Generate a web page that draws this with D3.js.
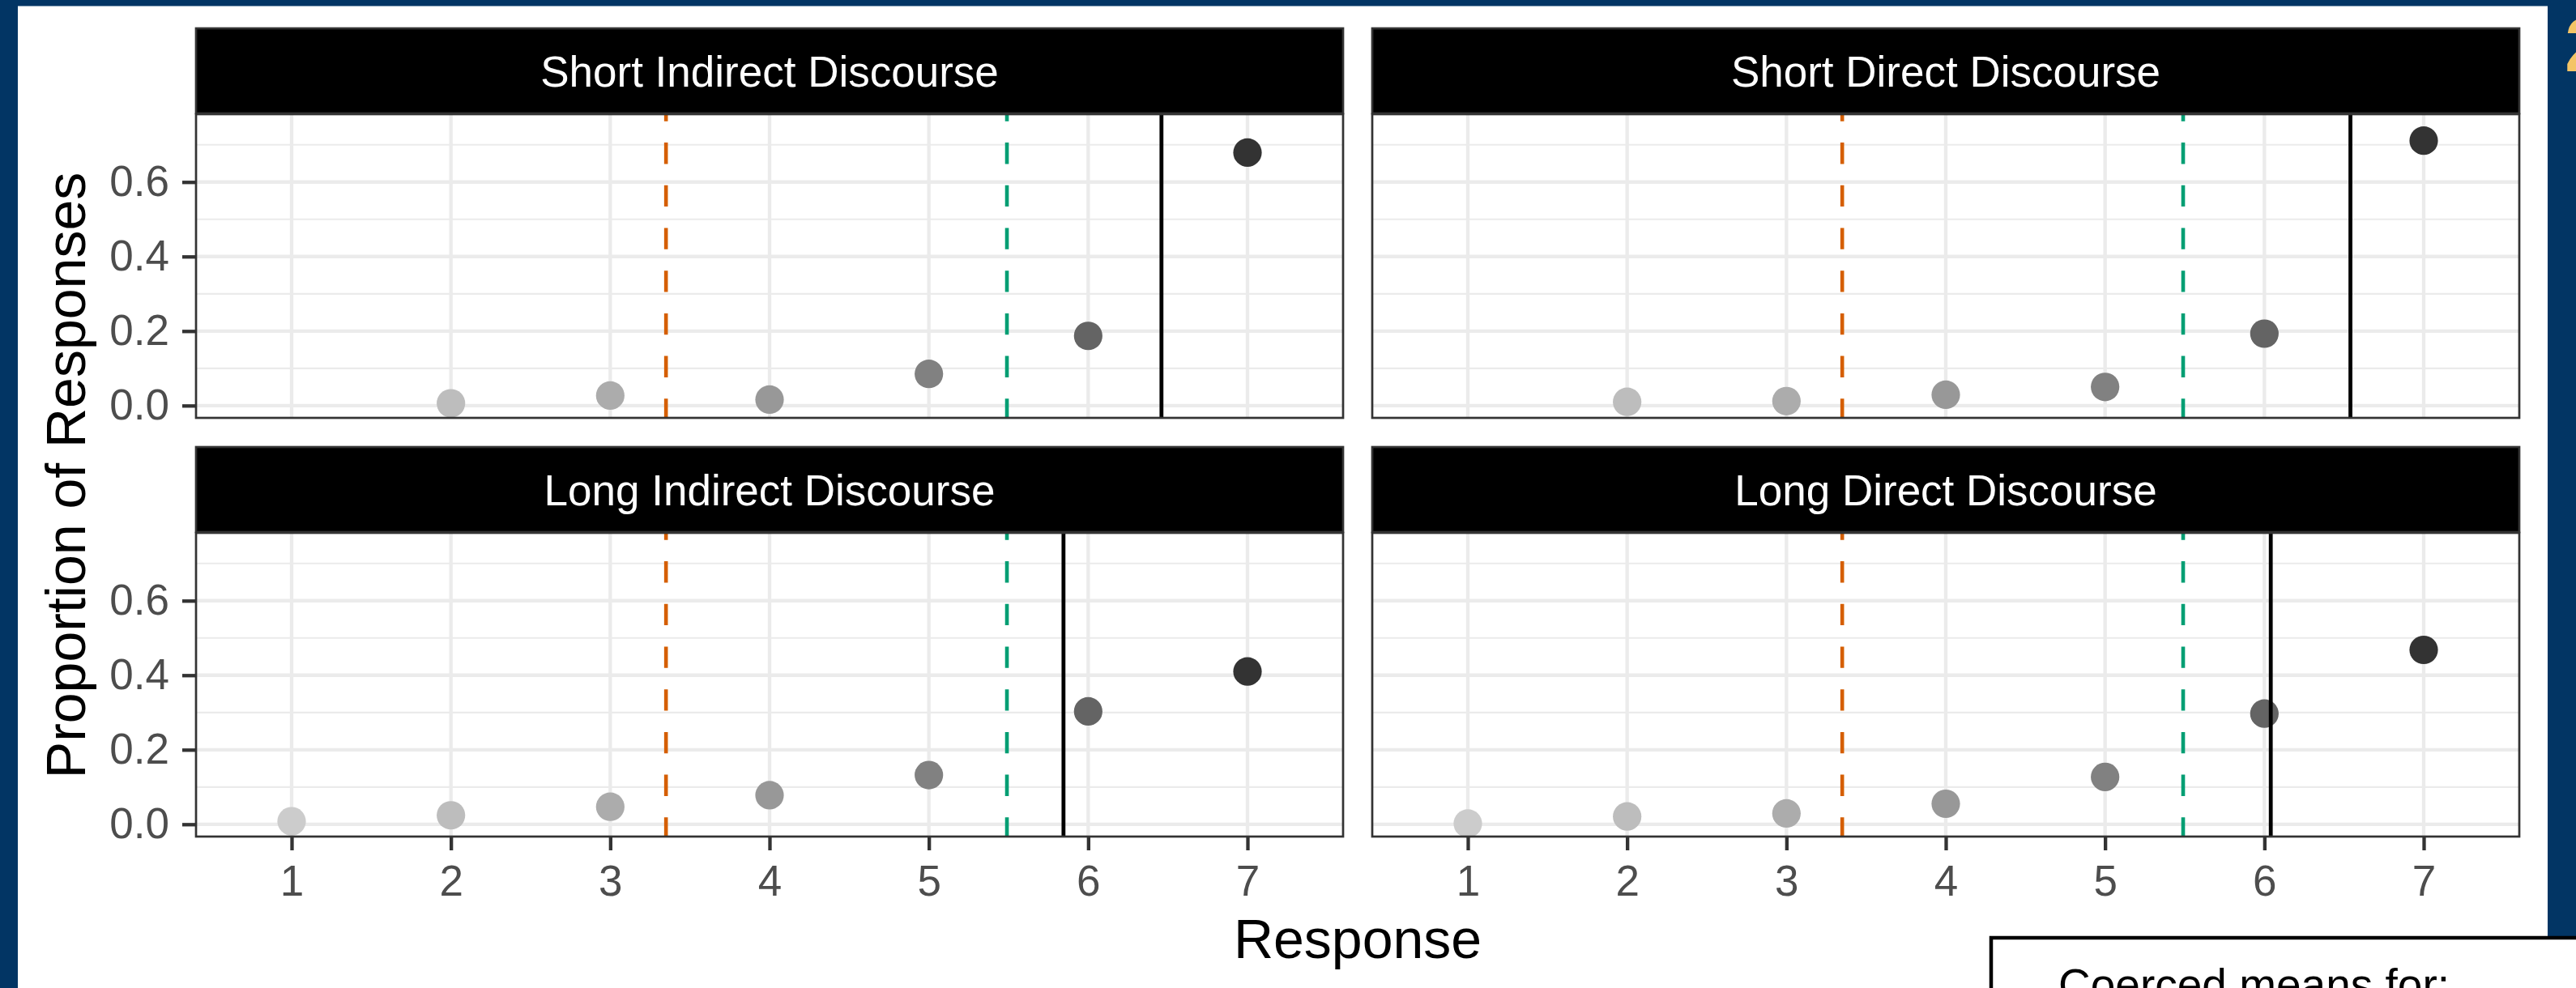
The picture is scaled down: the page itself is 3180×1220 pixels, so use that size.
<!DOCTYPE html>
<html>
<head>
<meta charset="utf-8">
<script src="https://cdn.jsdelivr.net/npm/d3@7"></script>
<style>
  body { margin: 0; background: #023564; overflow: hidden; }
  text { font-family: "Liberation Sans", Arial, Helvetica, sans-serif; }
</style>
</head>
<body>
<div id="my_dataviz"></div>
<script>
// data
const responses = [1, 2, 3, 4, 5, 6, 7];
const facetNames = ["Short Indirect Discourse", "Short Direct Discourse",
                    "Long Indirect Discourse", "Long Direct Discourse"];
const shortIndirect = [null, 0.006, 0.027, 0.016, 0.085, 0.187, 0.679];
const shortDirect   = [null, 0.010, 0.012, 0.029, 0.050, 0.193, 0.711];
const longIndirect  = [0.008, 0.024, 0.047, 0.078, 0.132, 0.303, 0.410];
const longDirect    = [0.002, 0.021, 0.029, 0.055, 0.127, 0.297, 0.468];
const facetMeans = [6.46, 6.54, 5.845, 6.04];   // solid black line
const coercedMeans = [3.35, 5.49];              // dashed lines
const coercedColors = ["#D55E00", "#009E73"];
const yTicks = [0, 0.2, 0.4, 0.6];
const yMinor = [0.1, 0.3, 0.5, 0.7];

const facetValues = [shortIndirect, shortDirect, longIndirect, longDirect];

// set the dimensions of the page
const W = 3180, H = 1220;
const panelLeft = [242, 1694], panelW = 1416;
const stripTop = [35, 552], stripH = 106, panelH = 375;

const svg = d3.select("#my_dataviz")
  .append("svg")
    .attr("width", W)
    .attr("height", H);

// white slide area
svg.append("rect")
  .attr("x", 22).attr("y", 7.5)
  .attr("width", 3145 - 22).attr("height", H)
  .attr("fill", "white");

// slide number peeking in at the right edge
svg.append("text")
  .attr("x", 3166).attr("y", 88)
  .attr("font-size", 95).attr("font-weight", "bold")
  .attr("fill", "#F4C466")
  .text("2");

// scales
const x = d3.scaleLinear().domain([0.4, 7.6]).range([0, panelW]);
const y = d3.scaleLinear().domain([-0.033, 0.782]).range([panelH, 0]);

// grey palette for the response levels (light to dark)
const color = d3.scaleOrdinal()
  .domain(responses)
  .range(["#CCCCCC", "#BDBDBD", "#ACACAC", "#989898", "#818181", "#646464", "#333333"]);

facetNames.forEach(function (name, i) {
  const col = i % 2, row = Math.floor(i / 2);
  const top = stripTop[row] + stripH;
  const g = svg.append("g")
    .attr("transform", `translate(${panelLeft[col]}, ${top})`);

  // panel background + grid
  g.append("rect").attr("width", panelW).attr("height", panelH).attr("fill", "white");
  g.selectAll(".minor").data(yMinor).enter().append("line")
    .attr("x1", 0).attr("x2", panelW)
    .attr("y1", d => y(d)).attr("y2", d => y(d))
    .attr("stroke", "#EBEBEB").attr("stroke-width", 2.2);
  g.selectAll(".major").data(yTicks).enter().append("line")
    .attr("x1", 0).attr("x2", panelW)
    .attr("y1", d => y(d)).attr("y2", d => y(d))
    .attr("stroke", "#EBEBEB").attr("stroke-width", 4.3);
  g.selectAll(".vgrid").data(responses).enter().append("line")
    .attr("x1", d => x(d)).attr("x2", d => x(d))
    .attr("y1", 0).attr("y2", panelH)
    .attr("stroke", "#EBEBEB").attr("stroke-width", 4.3);

  // Add dots
  const pts = responses.map((r, k) => ({ r: r, v: facetValues[i][k] }))
    .filter(d => d.v !== null);
  g.selectAll("dot").data(pts).enter().append("circle")
    .attr("cx", d => x(d.r))
    .attr("cy", d => y(d.v))
    .attr("r", 17.6)
    .style("fill", d => color(d.r));

  // coerced means (dashed) and facet mean (solid)
  g.selectAll(".coerced").data(coercedMeans).enter().append("line")
    .attr("x1", d => x(d)).attr("x2", d => x(d))
    .attr("y1", panelH).attr("y2", 0)
    .attr("stroke", (d, k) => coercedColors[k])
    .attr("stroke-width", 4.6)
    .attr("stroke-dasharray", "26.3,26.4")
    .attr("stroke-dashoffset", 2.6);
  g.append("line")
    .attr("x1", x(facetMeans[i])).attr("x2", x(facetMeans[i]))
    .attr("y1", panelH).attr("y2", 0)
    .attr("stroke", "black").attr("stroke-width", 4.8);

  // panel border
  g.append("rect").attr("width", panelW).attr("height", panelH)
    .attr("fill", "none").attr("stroke", "#333333").attr("stroke-width", 2.7);

  // strip
  g.append("rect")
    .attr("y", -stripH).attr("width", panelW).attr("height", stripH - 1)
    .attr("fill", "black").attr("stroke", "#333333").attr("stroke-width", 2.7);
  g.append("text")
    .attr("x", panelW / 2).attr("y", -stripH / 2 + 18.5)
    .attr("text-anchor", "middle")
    .attr("font-size", 53).attr("fill", "white")
    .text(name);

  // Add Y axis (left column only)
  if (col === 0) {
    const ay = g.append("g")
      .call(d3.axisLeft(y).tickValues(yTicks).tickSize(17).tickPadding(16)
        .tickFormat(d3.format(".1f")));
    ay.select(".domain").remove();
    ay.selectAll("line").attr("stroke", "#333333").attr("stroke-width", 4.3);
    ay.selectAll("text").attr("font-size", 53).attr("fill", "#4D4D4D")
      .attr("font-family", "Liberation Sans, Arial, sans-serif");
  }

  // Add X axis (bottom row only)
  if (row === 1) {
    const ax = g.append("g")
      .attr("transform", `translate(0, ${panelH})`)
      .call(d3.axisBottom(x).tickValues(responses).tickSize(17).tickPadding(18)
        .tickFormat(d3.format("d")));
    ax.select(".domain").remove();
    ax.selectAll("line").attr("stroke", "#333333").attr("stroke-width", 4.3);
    ax.selectAll("text").attr("font-size", 53).attr("fill", "#4D4D4D")
      .attr("font-family", "Liberation Sans, Arial, sans-serif");
  }
});

// axis titles
const panelsMid = (panelLeft[0] + panelLeft[1] + panelW) / 2;
svg.append("text")
  .attr("x", panelsMid).attr("y", 1183)
  .attr("text-anchor", "middle").attr("font-size", 68).attr("fill", "black")
  .text("Response");
svg.append("text")
  .attr("transform", `translate(105, ${(stripTop[0] + stripH + stripTop[1] + stripH + panelH) / 2}) rotate(-90)`)
  .attr("text-anchor", "middle").attr("font-size", 68).attr("fill", "black")
  .text("Proportion of Responses");

// legend box, cut off by the bottom edge
svg.append("rect")
  .attr("x", 2458).attr("y", 1158)
  .attr("width", 800).attr("height", 200)
  .attr("fill", "white").attr("stroke", "black").attr("stroke-width", 4.5);
svg.append("text")
  .attr("x", 2541).attr("y", 1235)
  .attr("font-size", 55).attr("fill", "black")
  .text("Coerced means for:");
</script>
</body>
</html>
